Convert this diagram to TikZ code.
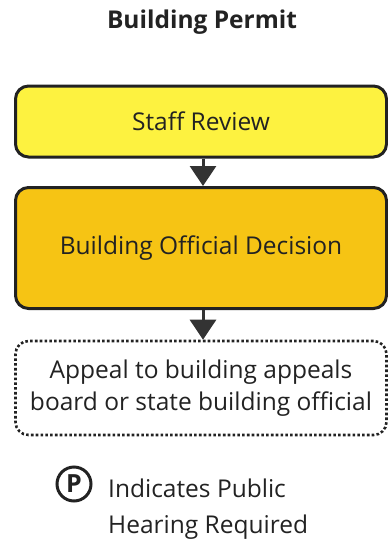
\documentclass[tikz,border=0pt]{standalone}
\usepackage{fontspec}
\setmainfont{Open Sans}
\usetikzlibrary{arrows.meta}
\definecolor{lightyel}{HTML}{FDF240}
\definecolor{darkyel}{HTML}{F6C414}
\definecolor{ink}{HTML}{222222}
\definecolor{arrowc}{HTML}{333333}
\tikzset{
  stepbox/.style={draw=ink, line width=3pt, rounded corners=13pt, minimum width=371pt, text=ink, align=center, inner sep=0pt},
  flowarrow/.style={draw=arrowc, line width=3pt, -{Triangle[width=26pt,length=20pt]}},
}
\begin{document}
\begin{tikzpicture}[x=1pt,y=-1pt]
\useasboundingbox (0,0) rectangle (388,542);
\node[font=\bfseries\fontsize{24.5}{28}\selectfont, text=ink] (title) at (202,22) {Building Permit};
\node[stepbox, fill=lightyel, minimum height=71pt, font=\fontsize{24.5}{28}\selectfont] (staff) at (201,121.5) {Staff Review};
\node[stepbox, fill=darkyel, minimum height=121pt, font=\fontsize{24.5}{28}\selectfont] (decision) at (201,248) {Building Official Decision};
\node[stepbox, draw=ink, line width=2.6pt, dash pattern=on 2.6pt off 2.2pt, minimum height=94pt, font=\fontsize{24.5}{32}\selectfont] (appeal) at (201,388) {Appeal to building appeals\\board or state building official};
\draw[flowarrow] (staff.south -| 203,0) -- (decision.north -| 203,0);
\draw[flowarrow] (decision.south -| 203,0) -- (appeal.north -| 203,0);
\node[circle, draw=ink, line width=3pt, minimum size=34pt, inner sep=0pt, font=\bfseries\fontsize{25}{25}\selectfont, text=ink] (pmark) at (74,484) {P};
\node[anchor=base west, align=left, text=ink, font=\fontsize{24.5}{36}\selectfont, inner sep=0pt] (legend) at (108,533) {Indicates Public\\Hearing Required};
\end{tikzpicture}
\end{document}
